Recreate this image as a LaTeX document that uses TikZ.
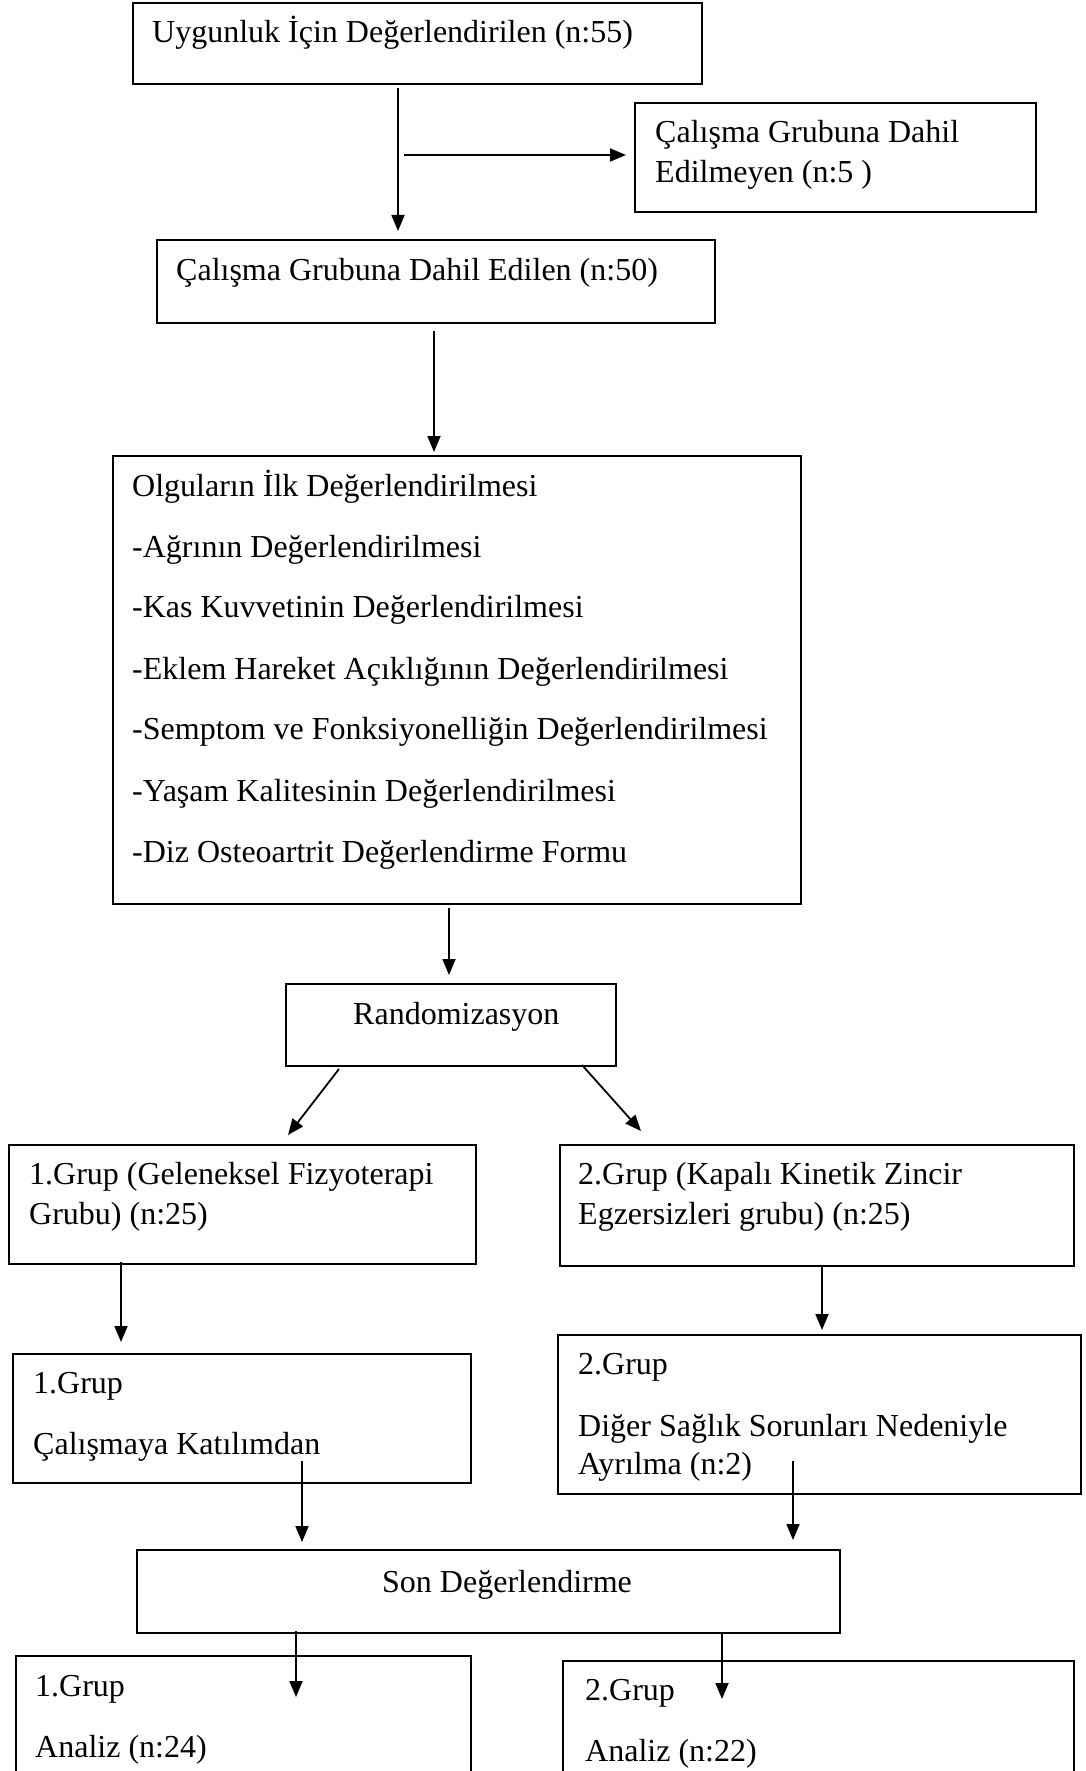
\documentclass[tikz,border=0pt]{standalone}
\usepackage{fontspec}
\setmainfont{Liberation Serif}
\usetikzlibrary{arrows.meta}
\newcommand\mybox[5]{\node[box, minimum width={#4-#2}, minimum height={#5-#3}] (#1) at (#2,#3) {};}
\newcommand\mytxt[4]{\node[txt] (#1) at (#2,#3) {#4};}
\newcommand\myarr[5]{\coordinate (#1s) at (#2,#3); \coordinate (#1e) at (#4,#5); \draw[arr] (#1s) -- (#1e);}
\begin{document}
\begin{tikzpicture}[x=1pt,y=-1pt,
  box/.style={draw, line width=1.6pt, inner sep=0pt, anchor=north west},
  txt/.style={anchor=base west, inner sep=0pt, font=\fontsize{32}{38}\selectfont},
  arr/.style={line width=1.8pt, -{Triangle[length=16pt,width=13pt]}}]
\useasboundingbox (0,0) rectangle (1086,1771);
\clip (0,0) rectangle (1086,1771);
% boxes
\mybox{b1}{132}{2}{701}{83}
\mybox{b2}{634}{102}{1035}{211}
\mybox{b3}{156}{239}{714}{322}
\mybox{b4}{112}{455}{800}{903}
\mybox{br}{285}{983}{615}{1065}
\mybox{g1}{8}{1144}{475}{1263}
\mybox{g2}{559}{1144}{1073}{1265}
\mybox{d1}{12}{1353}{470}{1482}
\mybox{d2}{557}{1334}{1080}{1493}
\mybox{son}{136}{1549}{839}{1632}
\mybox{f1}{15}{1655}{470}{1800}
\mybox{f2}{562}{1660}{1073}{1800}
% texts
\mytxt{t1}{152}{43}{Uygunluk İçin Değerlendirilen (n:55)}
\mytxt{t2a}{655}{143}{Çalışma Grubuna Dahil}
\mytxt{t2b}{655}{183}{Edilmeyen (n:5 )}
\mytxt{t3}{176}{280}{Çalışma Grubuna Dahil Edilen (n:50)}
\mytxt{t4a}{132}{496}{Olguların İlk Değerlendirilmesi}
\mytxt{t4b}{132}{557}{-Ağrının Değerlendirilmesi}
\mytxt{t4c}{132}{617}{-Kas Kuvvetinin Değerlendirilmesi}
\mytxt{t4d}{132}{679}{-Eklem Hareket Açıklığının Değerlendirilmesi}
\mytxt{t4e}{132}{739}{-Semptom ve Fonksiyonelliğin Değerlendirilmesi}
\mytxt{t4f}{132}{801}{-Yaşam Kalitesinin Değerlendirilmesi}
\mytxt{t4g}{132}{862}{-Diz Osteoartrit Değerlendirme Formu}
\mytxt{tr}{353}{1024}{Randomizasyon}
\mytxt{tg1a}{29}{1184}{1.Grup (Geleneksel Fizyoterapi}
\mytxt{tg1b}{29}{1224}{Grubu) (n:25)}
\mytxt{tg2a}{578}{1184}{2.Grup (Kapalı Kinetik Zincir}
\mytxt{tg2b}{578}{1224}{Egzersizleri grubu) (n:25)}
\mytxt{td1a}{33}{1393}{1.Grup}
\mytxt{td1b}{33}{1454}{Çalışmaya Katılımdan}
\mytxt{td2a}{578}{1374}{2.Grup}
\mytxt{td2b}{578}{1436}{Diğer Sağlık Sorunları Nedeniyle}
\mytxt{td2c}{578}{1474}{Ayrılma (n:2)}
\mytxt{ts}{382}{1592}{Son Değerlendirme}
\mytxt{tf1a}{35}{1696}{1.Grup}
\mytxt{tf1b}{35}{1757}{Analiz (n:24)}
\mytxt{tf2a}{585}{1700}{2.Grup}
\mytxt{tf2b}{585}{1761}{Analiz (n:22)}
% arrows
\myarr{a1}{398}{88}{398}{231}
\myarr{a2}{404}{155}{626}{155}
\myarr{a3}{434}{331}{434}{452}
\myarr{a4}{449}{908}{449}{975}
\myarr{a5}{339}{1069}{288}{1135}
\myarr{a6}{582}{1065}{641}{1131}
\myarr{a7}{121}{1262}{121}{1342}
\myarr{a8}{822}{1265}{822}{1330}
\myarr{a9}{302}{1461}{302}{1542}
\myarr{a10}{793}{1461}{793}{1540}
\myarr{a11}{296}{1631}{296}{1697}
\myarr{a12}{722}{1633}{722}{1699}
\end{tikzpicture}
\end{document}
